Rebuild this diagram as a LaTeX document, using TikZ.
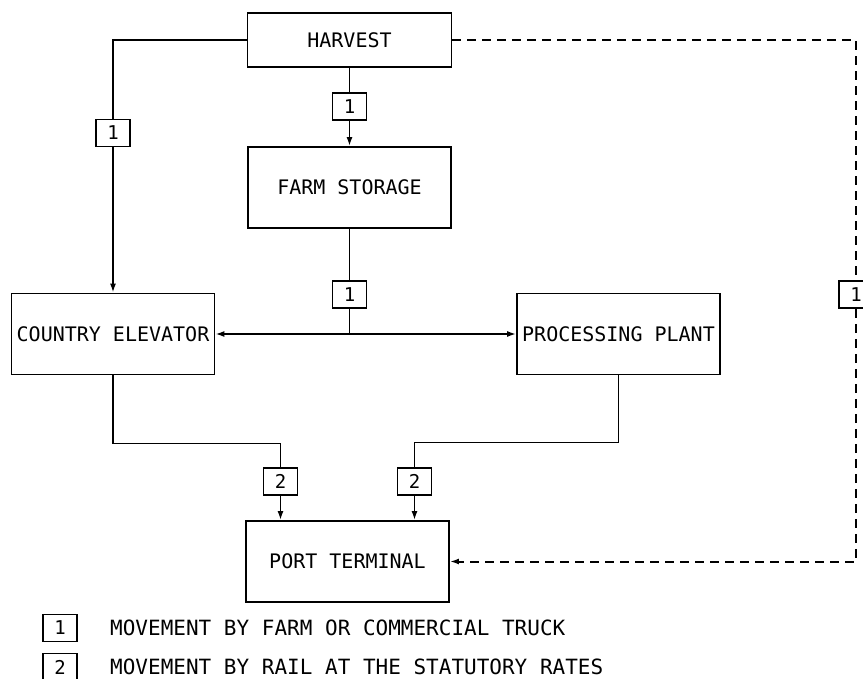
\documentclass[tikz,border=0pt]{standalone}
\usepackage{fontspec}
\setmonofont{DejaVu Sans Mono}
\usetikzlibrary{arrows.meta}

\begin{document}
\begin{tikzpicture}[x=1pt,y=-1pt,>={Latex[length=9pt,width=6pt]},
  every node/.style={font=\ttfamily\fontsize{20}{24}\selectfont},
  stage/.style={draw,line width=1.8pt,minimum width=203pt,minimum height=81pt,inner sep=0pt},
  tag/.style={draw,line width=1.6pt,minimum width=34pt,minimum height=27pt,inner sep=0pt,fill=white,font=\ttfamily\fontsize{19}{22}\selectfont},
  key/.style={anchor=west,inner sep=0pt,font=\ttfamily\fontsize{21}{25}\selectfont},
  route/.style={line width=1.7pt},
  haul/.style={route,line width=2pt,dash pattern=on 9pt off 6pt}]
\useasboundingbox (0,0) rectangle (863,679);

\node[stage,minimum width=204pt,minimum height=54pt] (harvest) at (349.5,40) {HARVEST};
\node[stage] (storage) at (349.5,187.5) {FARM STORAGE};
\node[stage] (elevator) at (113,334) {COUNTRY ELEVATOR};
\node[stage] (plant) at (618.5,334) {PROCESSING PLANT};
\node[stage] (port) at (347.5,561.5) {PORT TERMINAL};

\node[tag] (ta) at (113,133) {1};
\node[tag] (tb) at (349.5,106.5) {1};
\node[tag] (tc) at (349.5,294.5) {1};
\node[tag] (td) at (856,294.5) {1};
\node[tag] (ra) at (280.5,481.5) {2};
\node[tag] (rb) at (414.5,481.5) {2};
\coordinate (fork) at (storage.south |- elevator);

\draw[route] (harvest.west) -| (ta.north);
\draw[route,->] (ta.south) -- (elevator.north);
\draw[route] (harvest) -- (tb);
\draw[route,->] (tb) -- (storage);
\draw[route] (storage) -- (tc);
\draw[route] (tc.south) -- (fork);
\path[route,->]
  (fork) edge (elevator)
  (fork) edge (plant);
\draw[route] (elevator.south) -- ++(0,68) -| (ra.north);
\draw[route] (plant.south) -- ++(0,67) -| (rb.north);
\draw[route,->] (ra.south) -- (ra.south |- port.north);
\draw[route,->] (rb.south) -- (rb.south |- port.north);
\draw[haul] (harvest.east) -| (td.north);
\draw[haul,->] (td.south) |- (port.east);

\node[tag] (keyt) at (60,628) {1};
\node[tag] (keyr) at (60,667) {2};
\node[key] (keyttext) at (110,628) {MOVEMENT BY FARM OR COMMERCIAL TRUCK};
\node[key] (keyrtext) at (110,667) {MOVEMENT BY RAIL AT THE STATUTORY RATES};
\end{tikzpicture}
\end{document}
